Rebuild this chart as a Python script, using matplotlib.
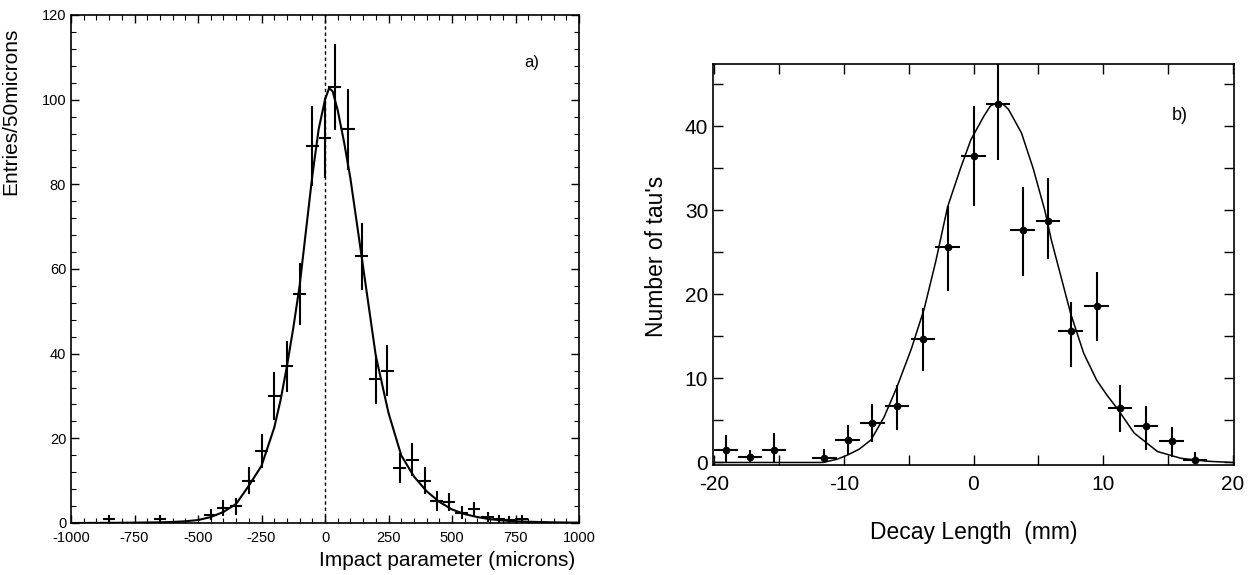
import numpy as np
import matplotlib
matplotlib.use("Agg")
import matplotlib.pyplot as plt
from matplotlib.ticker import MultipleLocator

plt.rcParams['font.family'] = ['Liberation Sans', 'DejaVu Sans']
plt.rcParams['axes.unicode_minus'] = False

# ---- panel a) impact parameter ----
ip_x = [-850, -650, -450, -400, -350, -300, -250, -200, -150, -100, -50, 0, 38,
        92, 145, 200, 245, 294, 344, 392, 440, 488, 538, 587, 640, 685, 725, 774]
ip_y = [1, 1, 2, 3.5, 4, 10, 17, 30, 37, 54, 89, 91, 103,
        93, 63, 34, 36, 13, 15, 10, 5.2, 5, 2.4, 3.2, 1.5, 1, 0.8, 1]
ip_err = [1, 1, 1.4, 1.9, 2, 3.2, 4.1, 5.6, 6.1, 7.3, 9.4, 9.5, 10.1,
          9.6, 7.9, 5.8, 6, 3.6, 3.9, 3.2, 2.3, 2.2, 1.5, 1.8, 1.2, 1, 0.9, 1]

ip_fit_x = [-1000, -800, -650, -600, -550, -500, -450, -400, -350, -300, -250,
            -200, -175, -150, -125, -100, -75, -50, -25, 0, 16, 30, 50, 75,
            100, 125, 150, 175, 200, 250, 300, 350, 400, 450, 500, 550, 600,
            650, 700, 750, 800, 900, 1000]
ip_fit_y = [0, 0.05, 0.15, 0.25, 0.4, 0.7, 1.4, 2.6, 4.5, 8.8, 13.5,
            22.5, 29, 37, 46, 56, 69, 82, 93, 100, 102.7, 102, 97.5, 90,
            81.4, 71, 60.5, 50, 39.5, 26, 16, 11, 7.5, 5, 3.2, 2.1, 1.4,
            0.9, 0.6, 0.4, 0.3, 0.15, 0.08]

# ---- panel b) decay length ----
dl_x = [-19.1, -17.25, -15.4, -11.5, -9.7, -7.8, -5.9, -3.9, -2.0, 0.0, 1.9,
        3.8, 5.75, 7.5, 9.5, 11.3, 13.3, 15.3, 17.1]
dl_y = [1.5, 0.6, 1.5, 0.5, 2.7, 4.7, 6.7, 14.7, 25.6, 36.5, 42.7,
        27.6, 28.7, 15.6, 18.6, 6.5, 4.3, 2.5, 0.3]
dl_err_lo = [1.5, 0.6, 1.5, 0.5, 1.8, 2.3, 2.8, 3.8, 5.2, 6.0, 6.7,
             5.4, 4.5, 4.2, 4.2, 2.9, 2.8, 1.8, 0.3]
dl_err_hi = [1.75, 0.9, 1.95, 1.1, 1.7, 2.2, 2.5, 3.7, 4.9, 5.9, 6.5,
             5.2, 5.1, 3.5, 4.0, 2.7, 2.4, 1.7, 1.0]

dl_fit_x = [-20, -11.6, -10.5, -9.7, -8.8, -7.9, -6.9, -5.9, -4.8, -3.8, -2.9,
            -2.0, -1.0, -0.2, 0.8, 1.3, 1.8, 2.3, 2.7, 3.7, 4.6, 5.5, 6.0, 7.5, 8.5,
            9.5, 10.3, 11.1, 12.4, 14.2, 16.0, 18.0, 20.0]
dl_fit_y = [0, 0.0, 0.4, 0.9, 1.6, 2.7, 5.4, 9.0, 13.5, 18.3, 24.0,
            30.4, 35.0, 38.4, 41.2, 42.4, 42.8, 42.6, 42.0, 39.2, 35.0, 30.0, 26.5, 17.7, 13.0,
            9.8, 8.0, 6.4, 3.5, 1.3, 0.5, 0.15, 0.0]

fig = plt.figure(figsize=(12.48, 5.75), dpi=100)

# left panel
ax1 = fig.add_axes([71 / 1248, 52 / 575, 508 / 1248, 508 / 575])
ax1.plot(ip_fit_x, ip_fit_y, color='black', lw=1.5)
ax1.errorbar(ip_x, ip_y, yerr=ip_err, xerr=25, fmt='none', ecolor='black',
             elinewidth=1.5, capsize=0)
ax1.axvline(0, color='black', lw=1.0, linestyle=(0, (2.5, 2)))
ax1.set_xlim(-1000, 1000)
ax1.set_ylim(0, 120)
ax1.xaxis.set_major_locator(MultipleLocator(250))
ax1.xaxis.set_minor_locator(MultipleLocator(50))
ax1.yaxis.set_major_locator(MultipleLocator(20))
ax1.yaxis.set_minor_locator(MultipleLocator(4))
ax1.tick_params(which='both', direction='in', top=True, right=True, labelsize=10.5)
ax1.tick_params(which='major', length=6, width=1)
ax1.tick_params(which='minor', length=3.5, width=0.8)
ax1.tick_params(axis='x', which='major', pad=6)
for sp in ax1.spines.values():
    sp.set_linewidth(1.2)
ax1.set_xlabel('Impact parameter (microns)', fontsize=15)
ax1.xaxis.set_label_coords(0.74, -0.055)
ax1.set_ylabel('Entries/50microns', fontsize=15)
ax1.yaxis.set_label_coords(-0.1, 0.81)
ax1.text(815, 108.7, 'a)', fontsize=12, ha='center', va='center')

# right panel
ax2 = fig.add_axes([713 / 1248, 110 / 575, 521 / 1248, 401 / 575])
ax2.plot(dl_fit_x, dl_fit_y, color='black', lw=1.1)
ax2.errorbar(dl_x, dl_y, yerr=[dl_err_lo, dl_err_hi], xerr=0.95, fmt='o',
             color='black', ms=4.5, ecolor='black', elinewidth=1.5, capsize=0)
ax2.set_xlim(-20.1, 20.1)
ax2.set_ylim(-0.3, 47.4)
ax2.xaxis.set_major_locator(MultipleLocator(10))
ax2.xaxis.set_minor_locator(MultipleLocator(5))
ax2.yaxis.set_major_locator(MultipleLocator(10))
ax2.yaxis.set_minor_locator(MultipleLocator(5))
ax2.tick_params(which='both', direction='in', top=True, right=True,
                labelsize=15, length=7, width=1)
ax2.tick_params(axis='x', which='major', pad=7.5)
for sp in ax2.spines.values():
    sp.set_linewidth(1.2)
ax2.set_xlabel('Decay Length  (mm)', fontsize=16.5)
ax2.xaxis.set_label_coords(0.5, -0.14)
ax2.set_ylabel("Number of tau's", fontsize=16.5)
ax2.yaxis.set_label_coords(-0.086, 0.52)
ax2.text(15.9, 41.3, 'b)', fontsize=13, ha='center', va='center')

fig.savefig('out.png', dpi=100)
